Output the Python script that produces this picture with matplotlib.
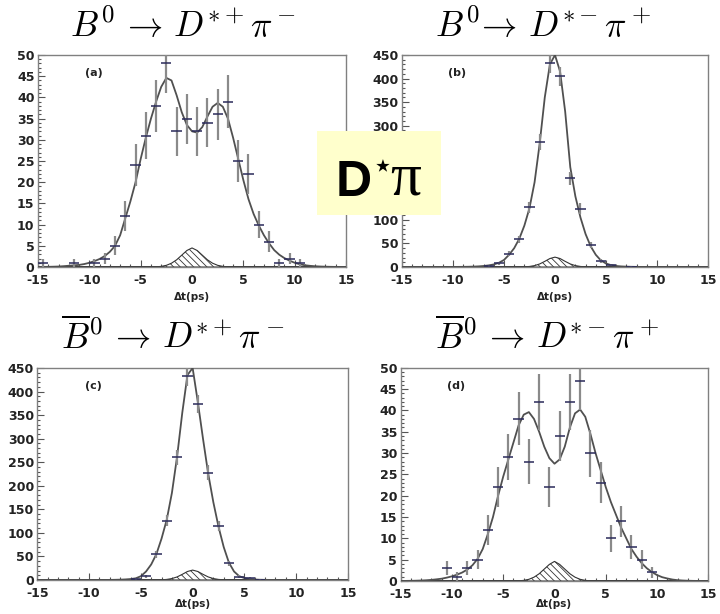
import matplotlib
matplotlib.use("Agg")
import matplotlib.pyplot as plt
from matplotlib.patches import Rectangle
from matplotlib.ticker import MultipleLocator

plt.rcParams["mathtext.fontset"] = "cm"
plt.rcParams["hatch.linewidth"] = 0.6
plt.rcParams["hatch.color"] = "#333333"
plt.rcParams["axes.unicode_minus"] = False

# Fit-curve sampling grid (ps)
curve_t = [-15.0, -14.5, -14.0, -13.5, -13.0, -12.5, -12.0, -11.5, -11.0, -10.5,
           -10.0, -9.5, -9.0, -8.5, -8.0, -7.5, -7.0, -6.5, -6.0, -5.5,
           -5.0, -4.5, -4.0, -3.5, -3.0, -2.5, -2.0, -1.5, -1.0, -0.5,
           0.0, 0.5, 1.0, 1.5, 2.0, 2.5, 3.0, 3.5, 4.0, 4.5,
           5.0, 5.5, 6.0, 6.5, 7.0, 7.5, 8.0, 8.5, 9.0, 9.5,
           10.0, 10.5, 11.0, 11.5, 12.0, 12.5, 13.0, 13.5, 14.0, 14.5, 15.0]

# (a) B0 -> D*+ pi-
a_t = [-14.5, -11.5, -9.5, -8.5, -7.5, -6.5, -5.5, -4.5, -3.5, -2.5, -1.5, -0.5,
       0.5, 1.5, 2.5, 3.5, 4.5, 5.5, 6.5, 7.5, 8.5, 9.5, 10.5]
a_n = [1, 1, 1, 2, 5, 12, 24, 31, 38, 48, 32, 35,
       32, 34, 36, 39, 25, 22, 10, 6, 1, 2, 1]
a_err = [1.0, 1.0, 1.0, 1.4, 2.2, 3.5, 4.9, 5.6, 6.2, 6.9, 5.7, 5.9,
         5.7, 5.8, 6.0, 6.2, 5.0, 4.7, 3.2, 2.4, 1.0, 1.4, 1.0]
a_fit = [0.02, 0.03, 0.05, 0.08, 0.12, 0.2, 0.3, 0.4, 0.5, 0.7,
         1.0, 1.4, 1.9, 2.6, 3.6, 5.0, 7.5, 11.5, 15.5, 20.0,
         25.5, 30.5, 35.0, 39.0, 42.5, 44.6, 44.0, 40.5, 36.5, 33.5,
         32.0, 31.7, 33.0, 35.5, 37.8, 38.7, 37.8, 35.0, 30.5, 25.5,
         20.5, 16.0, 12.5, 9.8, 7.5, 5.6, 4.0, 2.9, 2.1, 1.5,
         1.0, 0.65, 0.42, 0.28, 0.18, 0.12, 0.08, 0.05, 0.03, 0.02, 0.01]
a_bkg = [0] * 23 + [0.05, 0.15, 0.4, 0.9, 1.7, 2.8, 3.9, 4.5, 3.9, 2.8, 1.7,
                    0.9, 0.4, 0.15, 0.05] + [0] * 23

# (b) B0 -> D*- pi+
b_t = [-6.5, -5.5, -4.5, -3.5, -2.5, -1.5, -0.5, 0.5, 1.5, 2.5, 3.5, 4.5, 5.5, 7.5]
b_n = [2, 8, 28, 59, 127, 265, 432, 405, 188, 124, 47, 13, 4, 1]
b_err = [1.4, 2.8, 5.3, 7.7, 11.3, 16.3, 20.8, 20.1, 13.7, 11.1, 6.9, 3.6, 2.0, 1.0]
b_fit = [0, 0, 0, 0, 0, 0, 0, 0, 0.1, 0.1,
         0.2, 0.3, 0.4, 0.6, 0.9, 1.4, 2.2, 3.5, 5.5, 9.0,
         15.0, 26.0, 40.0, 60.0, 88.0, 125.0, 180.0, 262.0, 360.0, 430.0,
         450.0, 415.0, 330.0, 212.0, 150.0, 105.0, 70.0, 44.0, 26.0, 14.0,
         7.5, 4.0, 2.2, 1.3, 0.8, 0.5, 0.3, 0.2, 0.1, 0,
         0, 0, 0, 0, 0, 0, 0, 0, 0, 0, 0]
b_bkg = [0] * 24 + [0.4, 1.2, 3.0, 6.5, 12.0, 18.0, 21.0, 18.0, 12.0, 6.5,
                    3.0, 1.2, 0.4] + [0] * 24

# (c) B0bar -> D*+ pi-
c_t = [-5.5, -4.5, -3.5, -2.5, -1.5, -0.5, 0.5, 1.5, 2.5, 3.5, 4.5, 5.5, 6.5]
c_n = [2, 8, 55, 126, 260, 432, 373, 228, 115, 35, 7, 4, 1]
c_err = [1.4, 2.8, 7.4, 11.2, 16.1, 20.8, 19.3, 15.1, 10.7, 5.9, 2.6, 2.0, 1.0]
c_fit = [0, 0, 0, 0, 0, 0, 0, 0, 0, 0,
         0, 0, 0.05, 0.1, 0.2, 0.4, 0.7, 1.2, 2.0, 3.5,
         8.0, 18.0, 33.0, 55.0, 88.0, 128.0, 185.0, 262.0, 355.0, 435.0,
         450.0, 378.0, 300.0, 226.0, 165.0, 113.0, 70.0, 37.0, 18.0, 8.0,
         4.0, 2.0, 1.0, 0.5, 0.3, 0.1, 0, 0, 0, 0,
         0, 0, 0, 0, 0, 0, 0, 0, 0, 0, 0]
c_bkg = [0] * 24 + [0.4, 1.2, 3.0, 6.5, 12.0, 18.0, 21.0, 18.0, 12.0, 6.5,
                    3.0, 1.2, 0.4] + [0] * 24

# (d) B0bar -> D*- pi+
d_t = [-10.5, -9.5, -8.5, -7.5, -6.5, -5.5, -4.5, -3.5, -2.5, -1.5, -0.5,
       0.5, 1.5, 2.5, 3.5, 4.5, 5.5, 6.5, 7.5, 8.5, 9.5]
d_n = [3, 1, 3, 5, 12, 22, 29, 38, 28, 42, 22,
       34, 42, 47, 30, 23, 10, 14, 8, 5, 2]
d_err = [1.7, 1.0, 1.7, 2.2, 3.5, 4.7, 5.4, 6.2, 5.3, 6.5, 4.7,
         5.8, 6.5, 6.9, 5.5, 4.8, 3.2, 3.7, 2.8, 2.2, 1.4]
d_fit = [0.02, 0.03, 0.05, 0.08, 0.12, 0.18, 0.27, 0.4, 0.55, 0.8,
         1.1, 1.5, 2.0, 2.7, 3.7, 5.2, 7.5, 11.0, 15.0, 20.0,
         24.5, 28.5, 32.5, 36.5, 39.0, 39.6, 38.0, 35.0, 31.5, 28.8,
         27.5, 28.5, 31.5, 36.0, 39.3, 40.2, 38.5, 34.5, 30.0, 26.0,
         22.0, 18.5, 15.5, 12.5, 10.0, 7.5, 5.7, 4.2, 3.0, 2.1,
         1.4, 0.9, 0.6, 0.35, 0.2, 0.12, 0.07, 0.04, 0.02, 0.01, 0]
d_bkg = [0] * 23 + [0.05, 0.15, 0.4, 0.9, 1.7, 2.8, 3.9, 4.6, 3.9, 2.8, 1.7,
                    0.9, 0.4, 0.15, 0.05] + [0] * 23

x_ticks = [-15, -10, -5, 0, 5, 10, 15]

panels = [
    dict(rect=[0.0528, 0.5651, 0.4278, 0.3453], t=a_t, n=a_n, err=a_err,
         fit=a_fit, bkg=a_bkg, ymax=50, major=5, minor=1, tag="(a)",
         xl=-0.14, covered=[]),
    dict(rect=[0.5583, 0.5651, 0.4250, 0.3453], t=b_t, n=b_n, err=b_err,
         fit=b_fit, bkg=b_bkg, ymax=450, major=50, minor=10, tag="(b)",
         xl=-0.14, covered=[150, 200, 250]),
    dict(rect=[0.0518, 0.0554, 0.4315, 0.3453], t=c_t, n=c_n, err=c_err,
         fit=c_fit, bkg=c_bkg, ymax=450, major=50, minor=10, tag="(c)",
         xl=-0.115, covered=[]),
    dict(rect=[0.5565, 0.0537, 0.4273, 0.3474], t=d_t, n=d_n, err=d_err,
         fit=d_fit, bkg=d_bkg, ymax=50, major=5, minor=1, tag="(d)",
         xl=-0.11, covered=[]),
]

titles = [
    (0.254, 0.9397, r"$B^0\,\rightarrow\,D^{*+}\pi^-$"),
    (0.755, 0.9397, r"$B^{\mathit{0}}\!\rightarrow\,D^{*-}\pi^+$"),
    (0.240, 0.4332, r"$\overline{B}^0\,\rightarrow\,D^{*+}\pi^-$"),
    (0.760, 0.4332, r"$\overline{B}^0\,\rightarrow\,D^{*-}\pi^+$"),
]

fig = plt.figure(figsize=(7.2, 6.14), dpi=100)
fig.patch.set_facecolor("white")

label_family = "DejaVu Sans"

for p in panels:
    ax = fig.add_axes(p["rect"])
    ax.set_xlim(-15, 15)
    ax.set_ylim(0, p["ymax"])
    # background component (hatched)
    ax.fill_between(curve_t, 0, p["bkg"], facecolor="white",
                    edgecolor="#333333", hatch="\\\\\\\\\\", linewidth=0.8,
                    zorder=2)
    # total fit
    ax.plot(curve_t, p["fit"], color="#505050", lw=1.3, zorder=3)
    # data points: vertical error bars and bin-width bars
    ax.vlines(p["t"], [v - e for v, e in zip(p["n"], p["err"])],
              [v + e for v, e in zip(p["n"], p["err"])],
              color="#8a8a8a", lw=1.6, zorder=4)
    ax.hlines(p["n"], [x - 0.5 for x in p["t"]], [x + 0.5 for x in p["t"]],
              color="#2a2a5a", lw=1.1, zorder=5)

    ax.xaxis.set_minor_locator(MultipleLocator(1))
    ax.yaxis.set_minor_locator(MultipleLocator(p["minor"]))
    ax.set_xticks(x_ticks)
    yt = list(range(0, p["ymax"] + 1, p["major"]))
    ax.set_yticks(yt)
    ax.set_yticklabels(["" if v in p["covered"] else str(v) for v in yt])
    ax.tick_params(which="both", direction="in", top=False, right=False,
                   color="#555555", width=0.8)
    ax.tick_params(which="major", length=5)
    ax.tick_params(which="minor", length=2.5)
    ax.tick_params(axis="x", pad=5)
    ax.tick_params(axis="y", pad=2.5)
    for lab in ax.get_xticklabels() + ax.get_yticklabels():
        lab.set_fontfamily(label_family)
        lab.set_fontweight("bold")
        lab.set_fontsize(9)
        lab.set_color("#222222")
    for s in ax.spines.values():
        s.set_color("#808080")
        s.set_linewidth(1.0)
    ax.text(0.18, 0.915, p["tag"], transform=ax.transAxes, ha="center",
            va="center", fontsize=8, fontweight="bold",
            family=label_family, color="#222222")
    ax.text(0.5, p["xl"], "\u0394t(ps)", transform=ax.transAxes, ha="center",
            va="center", fontsize=7.5, fontweight="bold",
            family=label_family, color="#222222")

for x, y, s in titles:
    fig.text(x, y, s, ha="center", va="baseline", fontsize=25.5, color="black")

# Highlight box with the channel name
box = Rectangle((317 / 720, 1 - 215 / 614), 124 / 720, 84 / 614,
                transform=fig.transFigure, facecolor="#FFFFCC",
                edgecolor="none", zorder=10)
fig.patches.append(box)
fig.text(335 / 720, 1 - 197 / 614, r"D$^{\star}$", fontsize=36,
         fontweight="bold", family="Liberation Sans",
         math_fontfamily="dejavusans", ha="left", va="baseline", zorder=11)
fig.text(390 / 720, 1 - 195 / 614, "\u03c0", fontsize=44,
         family="Liberation Serif", ha="left", va="baseline", zorder=11)

fig.savefig("out.png", dpi=100)
